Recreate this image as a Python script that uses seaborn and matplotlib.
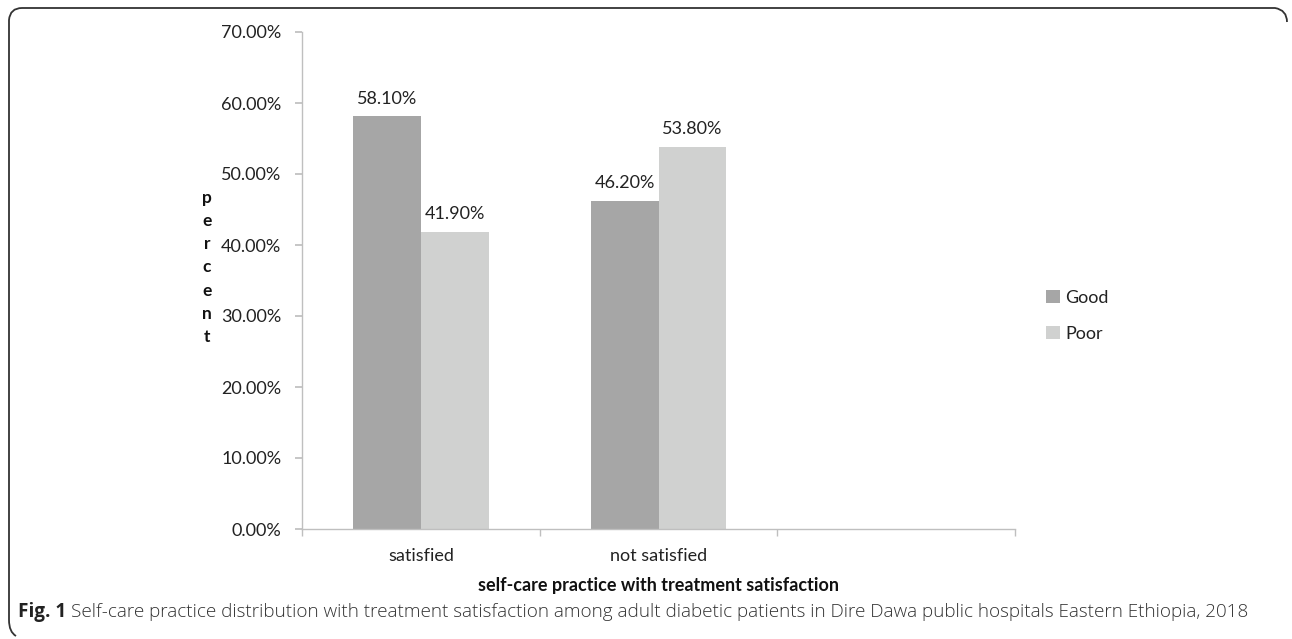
import matplotlib
matplotlib.use("Agg")
import matplotlib.pyplot as plt
from matplotlib.patches import PathPatch
from matplotlib.path import Path
from matplotlib.ticker import FixedLocator, FuncFormatter
import seaborn as sns
import pandas as pd

# ---- data ----
categories = ["satisfied", "not satisfied"]
series_names = ["Good", "Poor"]
good_values = [58.10, 46.20]
poor_values = [41.90, 53.80]
y_ticks = [0, 10, 20, 30, 40, 50, 60, 70]
x_label = "self-care practice with treatment satisfaction"
y_label = "percent"
caption_bold = "Fig. 1"
caption_text = ("Self-care practice distribution with treatment satisfaction among adult diabetic "
                "patients in Dire Dawa public hospitals Eastern Ethiopia, 2018")
colors = {"Good": "#A6A6A6", "Poor": "#D0D1D0"}

df = pd.DataFrame({
    "category": categories * 2,
    "series": [series_names[0]] * len(categories) + [series_names[1]] * len(categories),
    "value": good_values + poor_values,
})

sns.set_theme(style="white")
FONT = ["Lato", "DejaVu Sans"]
plt.rcParams["font.family"] = FONT

W, H = 1292, 639
fig = plt.figure(figsize=(W / 100, H / 100), dpi=100)
ax = fig.add_axes([302 / W, 1 - 529 / H, (1015 - 302) / W, (529 - 32) / H])

sns.barplot(data=df, x="category", y="value", hue="series", order=categories,
            hue_order=series_names, palette=colors, width=0.572, ax=ax,
            saturation=1, errorbar=None, legend=True, linewidth=0, edgecolor="none")

ax.set_xlim(-0.5, 2.5)
ax.set_ylim(0, 70)

spine_c = "#BFBFBF"
for s in ["top", "right"]:
    ax.spines[s].set_visible(False)
for s in ["left", "bottom"]:
    ax.spines[s].set_color(spine_c)
    ax.spines[s].set_linewidth(1.0)

TS = 13
ax.yaxis.set_major_locator(FixedLocator(y_ticks))
ax.yaxis.set_major_formatter(FuncFormatter(lambda v, p: f"{v:.2f}%"))
ax.tick_params(axis="y", which="major", left=True, length=5, color=spine_c,
               labelsize=TS, labelcolor="#222222", pad=10)
ax.set_xticks([0, 1])
ax.set_xticklabels(categories)
ax.tick_params(axis="x", which="major", length=0, labelsize=TS,
               labelcolor="#222222", pad=14)
ax.xaxis.set_minor_locator(FixedLocator([-0.5, 0.5, 1.5, 2.5]))
ax.tick_params(axis="x", which="minor", bottom=True, length=5, color=spine_c)

ax.set_xlabel(x_label, fontsize=TS, fontweight="bold", color="#111111", labelpad=9)
ax.set_ylabel("")

# data labels
for cont in ax.containers:
    ax.bar_label(cont, labels=[f"{v:.2f}%" for v in cont.datavalues],
                 padding=7, fontsize=TS, color="#222222")

# stacked y label
fig.text(207 / W, 1 - 267.5 / H, "\n".join(list(y_label)), ha="center", va="center",
         fontsize=12.5, fontweight="bold", color="#111111", linespacing=1.56)

# legend
leg = ax.legend(loc="center left", bbox_to_anchor=(1030 / W, 1 - 316 / H),
                bbox_transform=fig.transFigure, frameon=False, fontsize=TS,
                handlelength=0.75, handleheight=0.75, handletextpad=0.3,
                labelspacing=1.1)
for t in leg.get_texts():
    t.set_color("#222222")

# frame (rounded top, left side)
def px(x, y):
    return (x / W, 1 - y / H)

verts = [px(1287, 22), px(1287, 10), px(1275, 8), px(22, 8),
         px(10, 8), px(9, 20), px(9, 620), px(9, 632), px(16, 636)]
codes = [Path.MOVETO, Path.CURVE3, Path.CURVE3, Path.LINETO,
         Path.CURVE3, Path.CURVE3, Path.LINETO, Path.CURVE3, Path.CURVE3]
fig.patches.append(PathPatch(Path(verts, codes), transform=fig.transFigure,
                             fill=False, lw=1.3, edgecolor="#333333"))

# caption
cap_fs = 13.6
t1 = fig.text(18 / W, 1 - 612 / H, caption_bold, ha="left", va="center",
              fontsize=cap_fs, fontweight="bold", color="#222222",
              family=["Open Sans", "DejaVu Sans"])
fig.canvas.draw()
bb = t1.get_window_extent()
fig.text((bb.x1 + 5) / W, 1 - 612 / H, caption_text, ha="left", va="center",
         fontsize=cap_fs, color="#333333", family=["Open Sans", "DejaVu Sans"],
         fontweight="light")

fig.savefig("out.png", dpi=100)
